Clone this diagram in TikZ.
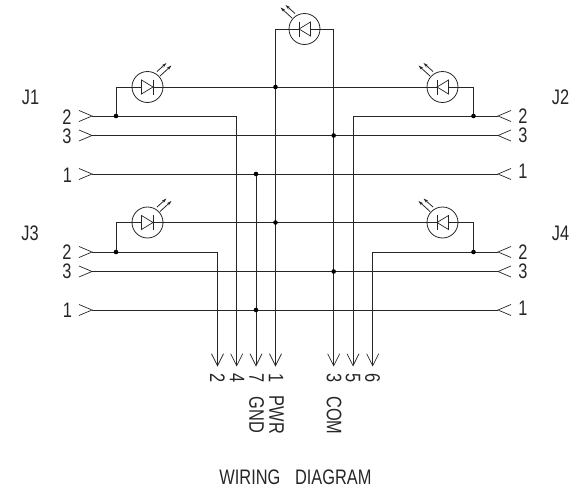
\documentclass[tikz,border=0pt]{standalone}
\usepackage{fontspec}
\newfontfamily\cad[FakeStretch=0.78]{Liberation Sans}
\usetikzlibrary{arrows.meta}
\tikzset{
  wire/.style={line width=0.9pt,color=black!85},
  pin/.style={line width=0.7pt,color=black!85},
  junction/.style={circle,fill=black,inner sep=0pt,minimum size=4.6pt},
  lbl/.style={inner sep=0pt,font=\cad\fontsize{21}{21}\selectfont,color=black!85},
  vlbl/.style={lbl,rotate=-90},
  ledring/.style={circle,draw=black!85,line width=0.8pt,minimum size=31pt,inner sep=0pt},
  lead/.style={wire,-{Straight Barb[length=12pt,width=12pt,line width=0.7pt]}},
  ray/.style={line width=0.8pt,color=black!85,-{Stealth[length=5pt,width=3pt]}}
}
\begin{document}
\begin{tikzpicture}[x=1pt,y=-1pt]
\useasboundingbox (0,0) rectangle (582,490);
% coordinates
\foreach \n/\x/\y in {
  a/116/87, b/473.5/87, c/275.5/87,
  a2/116/116, b2/473.5/116,
  d/116/222.5, e/473.5/222.5, f/275.5/222.5,
  d2/116/252, e2/473.5/252,
  g3/333.7/135.5, h3/333.7/271.5, g1/256/174, h1/256/310,
  tl/275.5/29, tr/333.7/29,
  i2/92/116, i3/92/135.5, i1/92/174, k2/92/252, k3/92/271.5, k1/92/310,
  o2/498/116, o3/498/135.5, o1/498/174, q2/498/252, q3/498/271.5, q1/498/310,
  c2/236.7/116, c5/353/116, c6/372.7/252, c7/217.5/252,
  e2n/217.5/366.5, e4/236.7/366.5, e7/256/366.5, e1/275.5/366.5, e3/333.7/366.5, e5/353/366.5, e6/372.7/366.5
}{\coordinate (\n) at (\x,\y);}
% LEDs
\foreach \n/\x/\y/\s in {L1/147.5/87/1, L2/442.5/87/-1, L3/147.5/222.5/1, L4/442.5/222.5/-1, L5/304.5/29/-1}{
  \node[ledring] (\n) at (\x,\y) {};
  \begin{scope}[shift={(\n.center)},xscale=\s]
    \draw[pin,line join=miter] (-6,-7) -- (-6,7) -- (5.5,0) -- cycle;
    \draw[pin] (5.5,-7.5) -- (5.5,7.5);
    \draw[ray] (9.5,-15.5) -- (19,-24);
    \draw[ray] (12.5,-11) -- (24,-21.5);
    \draw[wire] (-15.5,0) -- (-6,0);
    \draw[wire] (5.5,0) -- (15.5,0);
  \end{scope}
}
% horizontal buses with LEDs
\draw[wire] (a2) -- (a) -- (L1.west);
\draw[wire] (L1.east) -- (L2.west);
\draw[wire] (L2.east) -- (b) -- (b2);
\draw[wire] (d2) -- (d) -- (L3.west);
\draw[wire] (L3.east) -- (L4.west);
\draw[wire] (L4.east) -- (e) -- (e2);
\draw[wire] (c) -- (tl) -- (L5.west);
\draw[wire] (L5.east) -- (tr);
% signal rows
\draw[wire] (i3) -- (o3);
\draw[wire] (i1) -- (o1);
\draw[wire] (k3) -- (q3);
\draw[wire] (k1) -- (q1);
% leads
\draw[lead] (i2) -- (c2) -- (e4);
\draw[lead] (o2) -- (c5) -- (e5);
\draw[lead] (k2) -- (c7) -- (e2n);
\draw[lead] (q2) -- (c6) -- (e6);
\draw[lead] (g1) -- (e7);
\draw[lead] (tl) -- (e1);
\draw[lead] (tr) -- (e3);
% junctions
\foreach \p in {a2,b2,d2,e2,c,f,g3,h3,g1,h1}{\node[junction] at (\p) {};}
% connector chevrons
\foreach \p in {i2,i3,i1,k2,k3,k1}{\draw[pin] ([shift={(-13,-5.5)}]\p) -- (\p) -- ([shift={(-13,5.5)}]\p);}
\foreach \p in {o2,o3,o1,q2,q3,q1}{\draw[pin] ([shift={(13,-5.5)}]\p) -- (\p) -- ([shift={(13,5.5)}]\p);}
% labels
\node[lbl] (tJ1) at (30.5,97) {J1};
\node[lbl] (tJ2) at (560.5,97) {J2};
\node[lbl] (tJ3) at (30,233) {J3};
\node[lbl] (tJ4) at (560.5,233) {J4};
\foreach \n/\t/\x/\y in {a/2/67/117,b/3/67/136,c/1/67.5/175,d/2/67/252.5,e/3/67/271.5,f/1/67.5/310.5,
  g/2/523/116.5,h/3/523/135.5,k/1/523/171,m/2/523/252.5,n/3/523/271.5,o/1/523/308}{
  \node[lbl] (n\n) at (\x,\y) {\t};}
\foreach \n/\t/\x in {u/2/217.5,v/4/237,w/7/256.5,x/1/276,y/3/334,z/5/353,q/6/372.5}{
  \node[vlbl] (v\n) at (\x,378) {\t};}
\node[vlbl] (tGND) at (256.5,415) {GND};
\node[vlbl] (tPWR) at (276.5,415) {PWR};
\node[vlbl] (tCOM) at (334,415.5) {COM};
\node[lbl] (title) at (295.5,477) {WIRING\hspace{0.7em}DIAGRAM};
\end{tikzpicture}
\end{document}
